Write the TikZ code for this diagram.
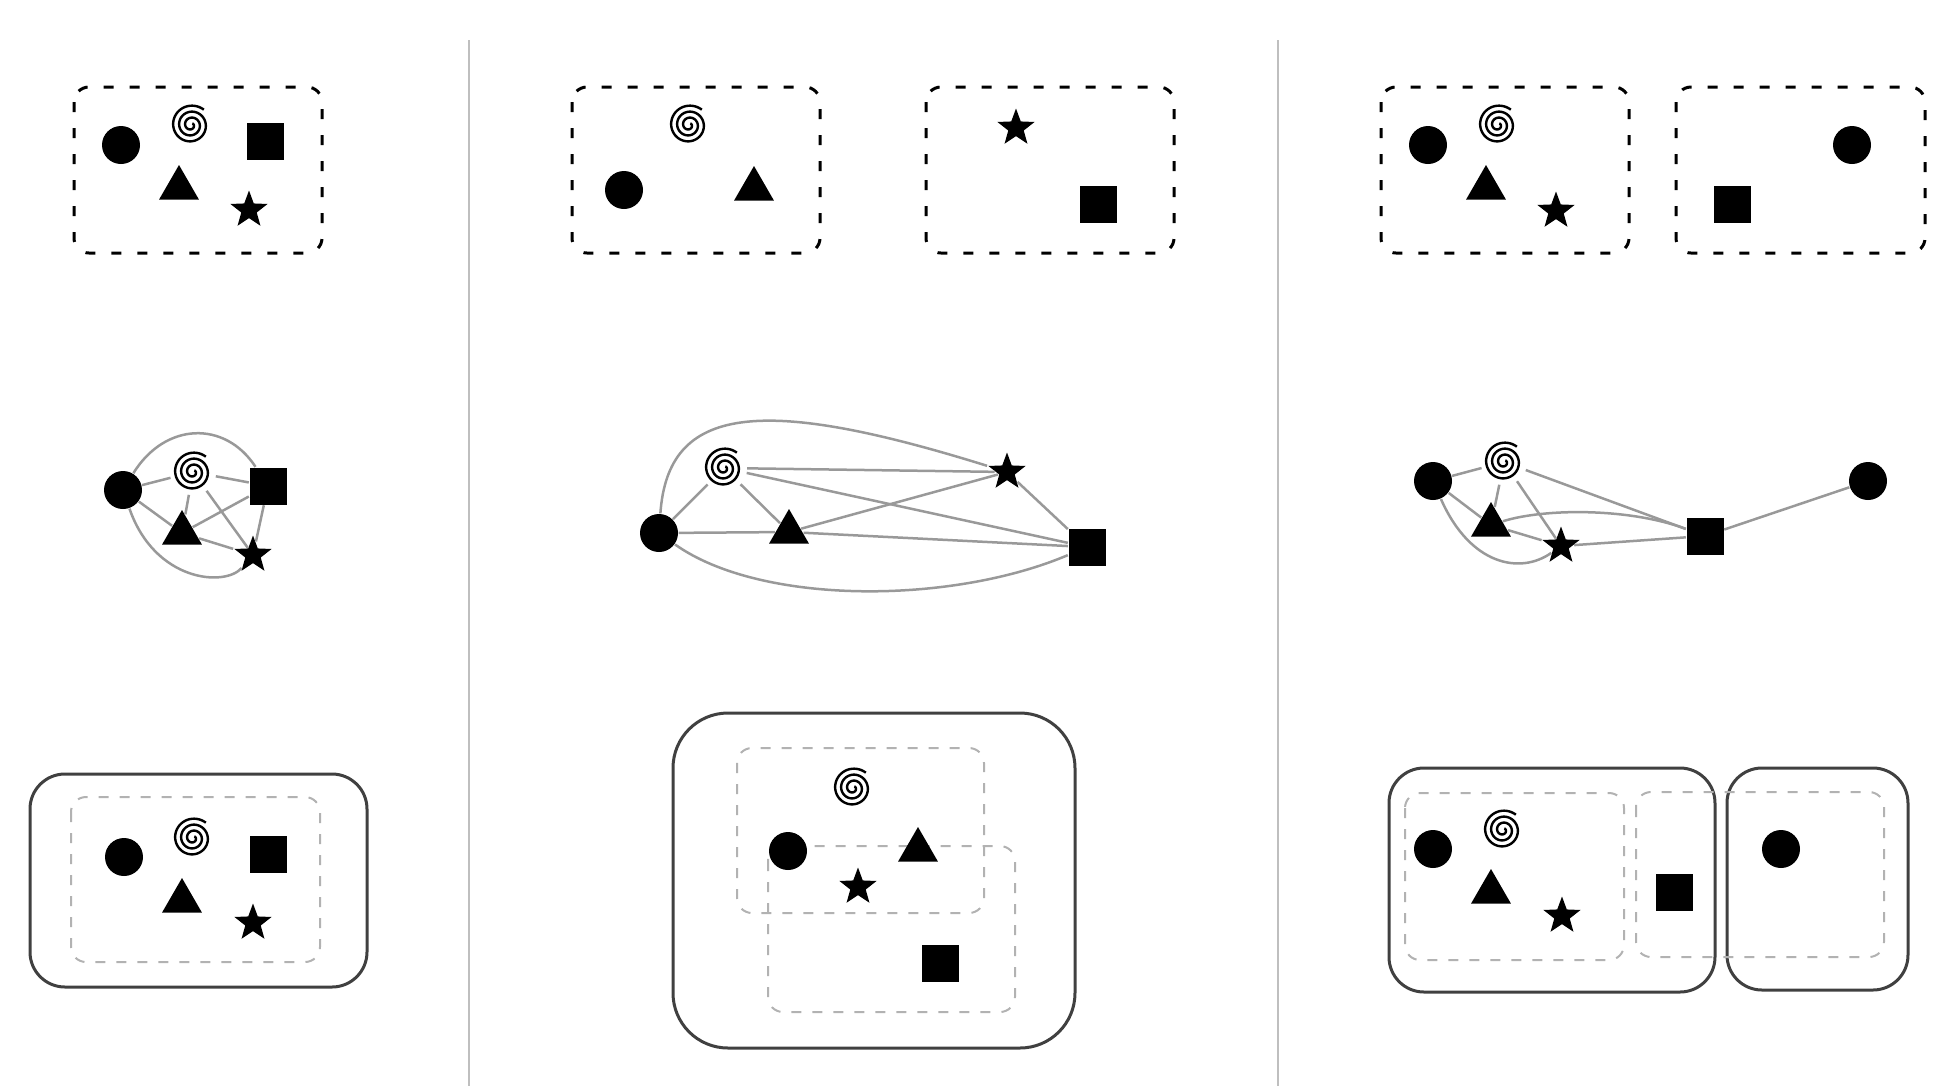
\documentclass[tikz,border=0pt]{standalone}
\usetikzlibrary{shapes.geometric}
\tikzset{
  dot/.style={circle,fill,inner sep=0pt,minimum size=3.8mm},
  blk/.style={rectangle,fill,inner sep=0pt,minimum size=3.7mm},
  tri/.style={regular polygon,regular polygon sides=3,fill,inner sep=0pt,minimum size=4.6mm},
  starry/.style={star,star points=5,star point ratio=2.4,fill,inner sep=0pt,minimum size=3.9mm},
  swirl/.style={circle,inner sep=0pt,minimum size=4.5mm,path picture={
    \draw[line width=0.24mm,shift={(path picture bounding box.center)}]
      plot[domain=0:1080,samples=150,smooth,variable=\t] ({1130-\t}:{(0.2+1.8*\t/1080)*1mm});}},
  pool/.style={draw,line width=0.3mm,dash pattern=on 1mm off 1.6mm,rounded corners=1.5mm},
  ghost/.style={draw=black!30,line width=0.2mm,dash pattern=on 1mm off 1.1mm,rounded corners=1.5mm},
  hull/.style={draw=black!75,line width=0.3mm},
  link/.style={draw=black!40,line width=0.25mm},
  divider/.style={draw=black!25,line width=0.2mm}
}
\begin{document}
\begin{tikzpicture}[x=0.1mm,y=-0.1mm]
\useasboundingbox (0,0) rectangle (1960,1086);
\foreach \x in {469,1278} \draw[divider] (\x,40) -- (\x,1086);
% left column: one pool, its graph, one group
\draw[pool] (74,87) rectangle (322,253);
\node[dot] (a1) at (121,145) {};
\node[swirl] (a2) at (191,125) {};
\node[blk] (a3) at (265,141) {};
\node[tri] (a4) at (179,188) {};
\node[starry] (a5) at (249,210) {};
\node[dot] (g1) at (123,490) {};
\node[swirl] (g2) at (193,472) {};
\node[blk] (g3) at (268,486) {};
\node[tri] (g4) at (182,533) {};
\node[starry] (g5) at (253,555) {};
\foreach \u/\v in {g1/g2,g1/g4,g2/g4,g2/g3,g2/g5,g4/g3,g4/g5,g3/g5}
  \draw[link] (\u) -- (\v);
\draw[link] (g1) .. controls (165,422) and (225,420) .. (g3);
\draw[link] (g1) .. controls (155,582) and (225,587) .. (g5);
\draw[hull,rounded corners=3.5mm] (30,774) rectangle (367,987);
\draw[ghost] (71,797) rectangle (320,962);
\node[dot] (m1) at (124,857) {};
\node[swirl] (m2) at (193,838) {};
\node[blk] (m3) at (268,854) {};
\node[tri] (m4) at (182,901) {};
\node[starry] (m5) at (253,923) {};
% middle column: two pools, merged graph, overlapping groups
\draw[pool] (572,87) rectangle (820,253);
\draw[pool] (926,87) rectangle (1174,253);
\node[swirl] (b2) at (689,125) {};
\node[dot] (b1) at (624,190) {};
\node[tri] (b4) at (754,189) {};
\node[starry] (b5) at (1016,128) {};
\node[blk] (b3) at (1098,204) {};
\node[dot] (h1) at (659,533) {};
\node[swirl] (h2) at (724,468) {};
\node[tri] (h4) at (789,532) {};
\node[starry] (h5) at (1007,472) {};
\node[blk] (h3) at (1087,547) {};
\foreach \u/\v in {h1/h2,h1/h4,h2/h4,h2/h5,h2/h3,h4/h5,h4/h3,h5/h3}
  \draw[link] (\u) -- (\v);
\draw[link] (h1) .. controls (668,405) and (760,395) .. (h5);
\draw[link] (h1) .. controls (760,605) and (950,605) .. (h3);
\draw[hull,rounded corners=5.5mm] (673,713) rectangle (1075,1048);
\draw[ghost] (737,748) rectangle (984,913);
\draw[ghost] (768,846) rectangle (1015,1012);
\node[swirl] (n2) at (853,788) {};
\node[dot] (n1) at (788,851) {};
\node[tri] (n4) at (918,850) {};
\node[starry] (n5) at (858,887) {};
\node[blk] (n3) at (940,963) {};
% right column: two pools, graph with a far dot, two groups
\draw[pool] (1381,87) rectangle (1629,253);
\draw[pool] (1676,87) rectangle (1925,253);
\node[dot] (c1) at (1428,145) {};
\node[swirl] (c2) at (1498,125) {};
\node[tri] (c4) at (1486,188) {};
\node[starry] (c5) at (1556,211) {};
\node[dot] (c6) at (1852,145) {};
\node[blk] (c3) at (1732,204) {};
\node[dot] (k1) at (1433,481) {};
\node[swirl] (k2) at (1504,462) {};
\node[tri] (k4) at (1491,525) {};
\node[starry] (k5) at (1561,546) {};
\node[blk] (k3) at (1705,536) {};
\node[dot] (k6) at (1868,481) {};
\foreach \u/\v in {k1/k2,k1/k4,k2/k4,k2/k5,k2/k3,k4/k5,k5/k3,k3/k6}
  \draw[link] (\u) -- (\v);
\draw[link] (k1) .. controls (1470,565) and (1520,575) .. (k5);
\draw[link] (k4) .. controls (1545,508) and (1630,508) .. (k3);
\draw[hull,rounded corners=3.5mm] (1389,768) rectangle (1715,992);
\draw[hull,rounded corners=3.5mm] (1727,768) rectangle (1908,990);
\draw[ghost] (1405,793) rectangle (1624,960);
\draw[ghost] (1636,792) rectangle (1884,957);
\node[dot] (p1) at (1433,849) {};
\node[swirl] (p2) at (1503,830) {};
\node[tri] (p4) at (1491,892) {};
\node[starry] (p5) at (1562,916) {};
\node[blk] (p3) at (1674,892) {};
\node[dot] (p6) at (1781,849) {};
\end{tikzpicture}
\end{document}
